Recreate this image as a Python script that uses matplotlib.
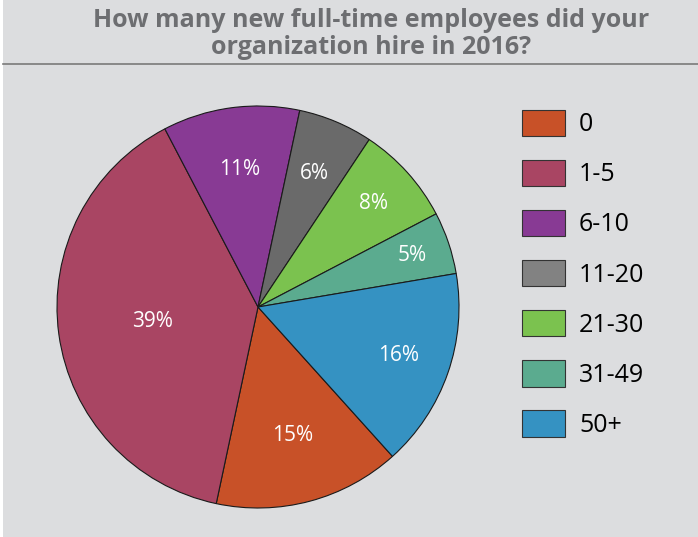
import matplotlib
matplotlib.use("Agg")
import numpy as np
import matplotlib.pyplot as plt
from matplotlib.patches import Patch, Rectangle
from matplotlib.lines import Line2D

TITLE = "How many new full-time employees did your\norganization hire in 2016?"
categories = ["0", "1-5", "6-10", "11-20", "21-30", "31-49", "50+"]
shares = [15, 39, 11, 6, 8, 5, 16]
colors = ["#c85128", "#a94563", "#883a94", "#6a6a6a", "#7bc24f", "#5bab8f", "#3592c2"]
legend_colors = ["#c85128", "#a94563", "#883a94", "#828282", "#7bc24f", "#5bab8f", "#3592c2"]

# how far out each percent label sits (fraction of radius)
label_radius = [0.66, 0.53, 0.69, 0.72, 0.77, 0.81, 0.74]

BG = "#dcdddf"

plt.rcParams['font.family'] = ['Open Sans', 'DejaVu Sans']

fig = plt.figure(figsize=(6.98, 5.37), dpi=100)
fig.patch.set_facecolor(BG)

# thin white strip on the left edge
fig.add_artist(Rectangle((0, 0), 3 / 698, 1, transform=fig.transFigure,
                         facecolor="white", edgecolor="none"))

# title and rule below it
fig.text(371 / 698, 1 - 34 / 537, TITLE, ha="center", va="center",
         fontsize=18, fontweight="bold", color="#6d6e71", linespacing=1.15)
fig.add_artist(Line2D([3 / 698, 1], [1 - 64 / 537, 1 - 64 / 537],
                      transform=fig.transFigure, color="#7a7a7a", linewidth=1.2))

# pie: center (258, 307) px, radius ~201 px
r_px = 201
pad = 1.02
size = 2 * r_px * pad
ax = fig.add_axes([(258 - size / 2) / 698, (537 - 307 - size / 2) / 537,
                   size / 698, size / 537])
wedges, texts, autotexts = ax.pie(
    shares, colors=colors, startangle=-48, counterclock=False,
    autopct=lambda p: f"{p:.0f}%", pctdistance=0.7,
    wedgeprops=dict(edgecolor="#1a1a1a", linewidth=0.8),
    textprops=dict(color="white", fontsize=15))
ax.set_xlim(-pad, pad)
ax.set_ylim(-pad, pad)
ax.set_aspect("equal")
ax.axis("off")

for w, t, rr in zip(wedges, autotexts, label_radius):
    ang = np.deg2rad((w.theta1 + w.theta2) / 2)
    t.set_position((rr * np.cos(ang), rr * np.sin(ang)))

handles = [Patch(facecolor=c, edgecolor="#333333", linewidth=0.8) for c in legend_colors]
fig.legend(handles, categories, loc="upper left",
           bbox_to_anchor=(499 / 698, 1 - 87 / 537),
           frameon=False, fontsize=18, handlelength=1.75, handleheight=1.25,
           handletextpad=0.55, labelspacing=0.9)

fig.savefig("out.png", dpi=100, facecolor=fig.get_facecolor())
